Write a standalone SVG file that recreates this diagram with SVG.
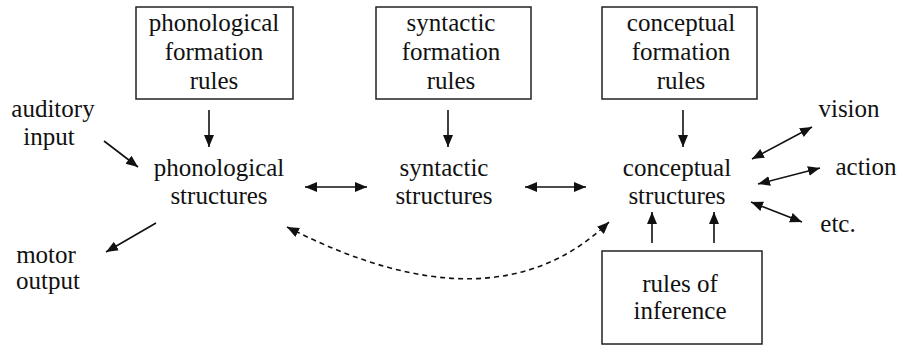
<svg xmlns="http://www.w3.org/2000/svg" width="907" height="348" viewBox="0 0 907 348">
<style>
text{font-family:"Liberation Serif","DejaVu Serif",serif;font-size:25px;fill:#111;text-anchor:middle}
.box{fill:#fff;stroke:#222;stroke-width:1.5}
.c{stroke:#111;stroke-width:1.6;fill:none}
.d{stroke:#111;stroke-width:1.6;fill:none;stroke-dasharray:5,4}
</style>
<defs>
<marker id="ah" markerUnits="userSpaceOnUse" markerWidth="13" markerHeight="11" refX="12" refY="5" orient="auto-start-reverse" viewBox="0 0 13 11">
<path d="M0,0 L12,5 L0,10 z" fill="#111"/>
</marker>
</defs>
<rect width="907" height="348" fill="#fff"/>
<g id="phon-rules"><rect class="box" x="136" y="7" width="157" height="92"/>
<text x="214" y="31">phonological</text><text x="214" y="60">formation</text><text x="214" y="89">rules</text></g>
<g id="syn-rules"><rect class="box" x="376" y="7" width="155" height="92"/>
<text x="451" y="31">syntactic</text><text x="451" y="60">formation</text><text x="451" y="89">rules</text></g>
<g id="con-rules"><rect class="box" x="602" y="7" width="155" height="92"/>
<text x="681" y="31">conceptual</text><text x="681" y="60">formation</text><text x="681" y="89">rules</text></g>
<g id="inference"><rect class="box" x="602" y="251" width="160" height="93"/>
<text x="680" y="292">rules of</text><text x="680" y="319">inference</text></g>
<g id="auditory"><text x="53" y="117">auditory</text><text x="49" y="145">input</text></g>
<g id="phon"><text x="219" y="176">phonological</text><text x="219" y="204">structures</text></g>
<g id="syn"><text x="444" y="176">syntactic</text><text x="444" y="204">structures</text></g>
<g id="con"><text x="677" y="176">conceptual</text><text x="677" y="204">structures</text></g>
<g id="vision"><text x="849" y="117">vision</text></g>
<g id="action"><text x="866" y="175">action</text></g>
<g id="etc"><text x="838" y="232">etc.</text></g>
<g id="motor"><text x="46" y="263">motor</text><text x="48" y="289">output</text></g>
<g id="connectors">
<line class="c" x1="209" y1="110" x2="209" y2="147" marker-end="url(#ah)"/>
<line class="c" x1="448" y1="110" x2="448" y2="147" marker-end="url(#ah)"/>
<line class="c" x1="683" y1="110" x2="683" y2="147" marker-end="url(#ah)"/>
<line class="c" x1="104" y1="141" x2="138" y2="167" marker-end="url(#ah)"/>
<line class="c" x1="305" y1="187" x2="367" y2="187" marker-start="url(#ah)" marker-end="url(#ah)"/>
<line class="c" x1="525" y1="187" x2="586" y2="187" marker-start="url(#ah)" marker-end="url(#ah)"/>
<line class="c" x1="752" y1="159" x2="812" y2="127" marker-start="url(#ah)" marker-end="url(#ah)"/>
<line class="c" x1="758" y1="184" x2="820" y2="168" marker-start="url(#ah)" marker-end="url(#ah)"/>
<line class="c" x1="751" y1="202" x2="802" y2="222" marker-start="url(#ah)" marker-end="url(#ah)"/>
<line class="c" x1="652" y1="243" x2="652" y2="212" marker-end="url(#ah)"/>
<line class="c" x1="714" y1="243" x2="714" y2="212" marker-end="url(#ah)"/>
<line class="c" x1="156" y1="223" x2="106" y2="252" marker-end="url(#ah)"/>
<path class="d" d="M287,227 Q494,333 609,222" marker-start="url(#ah)" marker-end="url(#ah)"/>
</g>
</svg>
